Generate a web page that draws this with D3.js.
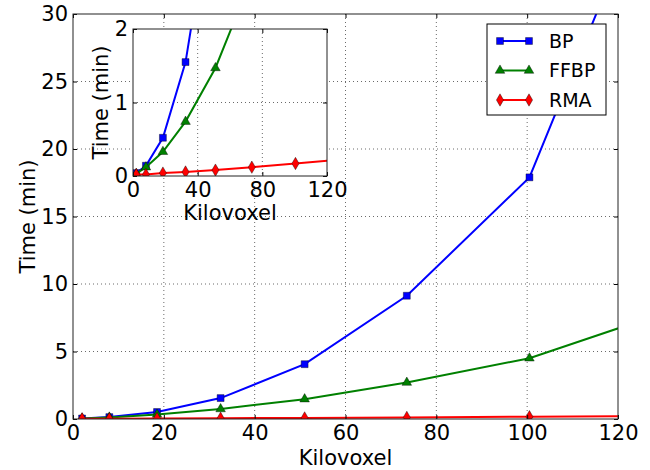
<!DOCTYPE html>
<html>
<head>
<meta charset="utf-8">
<script src="https://cdn.jsdelivr.net/npm/d3@7"></script>
<style>
  body { margin: 0; background: #fff; }
  svg { font-family: "DejaVu Sans", sans-serif; }
</style>
</head>
<body>
<svg id="chart" width="650" height="470"></svg>
<script>
// measured points (last one lies beyond the x range and is clipped)
var kilovoxel = [2, 8, 18.5, 32.5, 51, 73.5, 100.5, 131];
var bpTime   = [0.04, 0.14, 0.52, 1.55, 4.06, 9.13, 17.9, 43];
var ffbpTime = [0.03, 0.12, 0.33, 0.74, 1.47, 2.7, 4.5, 7.96];
var rmaTime  = [0.02, 0.02, 0.04, 0.055, 0.08, 0.12, 0.17, 0.23];

var seriesNames = ["BP", "FFBP", "RMA"];
var mainXTicks = [0, 20, 40, 60, 80, 100, 120];
var mainYTicks = [0, 5, 10, 15, 20, 25, 30];
var insetXTicks = [0, 40, 80, 120];
var insetYTicks = [0, 1, 2];

var styles = {
  BP:   { color: "#0000ff", symbol: d3.symbolSquare,  size: 48 },
  FFBP: { color: "#008000", symbol: d3.symbolTriangle, size: 40 },
  RMA:  { color: "#ff0000", symbol: d3.symbolDiamond, size: 44 }
};

var series = [
  { name: "BP", values: bpTime },
  { name: "FFBP", values: ffbpTime },
  { name: "RMA", values: rmaTime }
].map(function(s){
  return { name: s.name, points: kilovoxel.map(function(k, i){ return { x: k, y: s.values[i] }; }) };
});

var svg = d3.select("#chart");
var FONT = 21;

function drawPanel(opts){
  var x = d3.scaleLinear().domain(opts.xDomain).range([opts.left, opts.right]);
  var y = d3.scaleLinear().domain(opts.yDomain).range([opts.bottom, opts.top]);
  var g = svg.append("g");
  var w = opts.right - opts.left, h = opts.bottom - opts.top;

  g.append("rect").attr("x", opts.left).attr("y", opts.top)
    .attr("width", w).attr("height", h).attr("fill", "#fff");

  // dotted grid
  g.append("g").selectAll("line").data(opts.xTicks.slice(1, -1)).enter().append("line")
    .attr("x1", d => x(d)).attr("x2", d => x(d))
    .attr("y1", opts.top).attr("y2", opts.bottom)
    .attr("stroke", "#444").attr("stroke-width", 0.8).attr("stroke-dasharray", "1,3");
  g.append("g").selectAll("line").data(opts.yTicks.slice(1, -1)).enter().append("line")
    .attr("y1", d => y(d)).attr("y2", d => y(d))
    .attr("x1", opts.left).attr("x2", opts.right)
    .attr("stroke", "#444").attr("stroke-width", 0.8).attr("stroke-dasharray", "1,3");

  var clipId = "clip-" + opts.id;
  g.append("clipPath").attr("id", clipId).append("rect")
    .attr("x", opts.left).attr("y", opts.top).attr("width", w).attr("height", h);

  var plot = g.append("g").attr("clip-path", "url(#" + clipId + ")");
  var line = d3.line().x(d => x(d.x)).y(d => y(d.y));

  series.forEach(function(s){
    var st = styles[s.name];
    plot.append("path").datum(s.points)
      .attr("d", line).attr("fill", "none")
      .attr("stroke", st.color).attr("stroke-width", 2);
    plot.selectAll(".m-" + s.name).data(s.points).enter().append("path")
      .attr("class", "m-" + s.name)
      .attr("transform", d => "translate(" + x(d.x) + "," + y(d.y) + ")")
      .attr("d", d3.symbol().type(st.symbol).size(st.size))
      .attr("fill", st.color).attr("stroke", "#000").attr("stroke-width", 0.4);
  });

  // axes with inward ticks on all sides
  var fmt = d3.format("d");
  var axB = g.append("g").attr("transform", "translate(0," + opts.bottom + ")")
    .call(d3.axisBottom(x).tickValues(opts.xTicks).tickFormat(fmt).tickSizeInner(-4).tickSizeOuter(0).tickPadding(6));
  var axT = g.append("g").attr("transform", "translate(0," + opts.top + ")")
    .call(d3.axisTop(x).tickValues(opts.xTicks).tickSizeInner(-4).tickSizeOuter(0).tickFormat(""));
  var axL = g.append("g").attr("transform", "translate(" + opts.left + ",0)")
    .call(d3.axisLeft(y).tickValues(opts.yTicks).tickFormat(fmt).tickSizeInner(-4).tickSizeOuter(0).tickPadding(5));
  var axR = g.append("g").attr("transform", "translate(" + opts.right + ",0)")
    .call(d3.axisRight(y).tickValues(opts.yTicks).tickSizeInner(-4).tickSizeOuter(0).tickFormat(""));
  [axB, axT, axL, axR].forEach(function(a){
    a.select(".domain").remove();
    a.selectAll("text").attr("font-size", FONT).attr("fill", "#000")
      .attr("font-family", "DejaVu Sans");
    a.selectAll("line").attr("stroke", "#000");
  });

  g.append("rect").attr("x", opts.left).attr("y", opts.top)
    .attr("width", w).attr("height", h)
    .attr("fill", "none").attr("stroke", "#222").attr("stroke-width", 1);

  g.append("text").attr("x", (opts.left + opts.right) / 2).attr("y", opts.xLabelY)
    .attr("text-anchor", "middle").attr("font-size", FONT).text("Kilovoxel");
  g.append("text")
    .attr("transform", "translate(" + opts.yLabelX + "," + (opts.top + opts.bottom) / 2 + ") rotate(-90)")
    .attr("text-anchor", "middle").attr("font-size", FONT).text("Time (min)");
  return g;
}

drawPanel({
  id: "main", left: 73, right: 618, top: 14, bottom: 419,
  xDomain: [0, 120], yDomain: [0, 30],
  xTicks: mainXTicks, yTicks: mainYTicks,
  xLabelY: 465, yLabelX: 35
});

// legend
var lg = svg.append("g");
lg.append("rect").attr("x", 487).attr("y", 24).attr("width", 119).attr("height", 91)
  .attr("fill", "#fff").attr("stroke", "#000").attr("stroke-width", 1);
seriesNames.forEach(function(name, i){
  var st = styles[name];
  var yy = 41 + i * 29.5;
  lg.append("line").attr("x1", 500).attr("x2", 529).attr("y1", yy).attr("y2", yy)
    .attr("stroke", st.color).attr("stroke-width", 2);
  [500, 529].forEach(function(xx){
    lg.append("path").attr("transform", "translate(" + xx + "," + yy + ")")
      .attr("d", d3.symbol().type(st.symbol).size(st.size))
      .attr("fill", st.color).attr("stroke", "#000").attr("stroke-width", 0.4);
  });
  lg.append("text").attr("x", 549).attr("y", yy).attr("dy", "0.36em")
    .attr("font-size", 19).text(name);
});

drawPanel({
  id: "inset", left: 133, right: 327, top: 29, bottom: 176,
  xDomain: [0, 120], yDomain: [0, 2],
  xTicks: insetXTicks, yTicks: insetYTicks,
  xLabelY: 220, yLabelX: 108
});
</script>
</body>
</html>
